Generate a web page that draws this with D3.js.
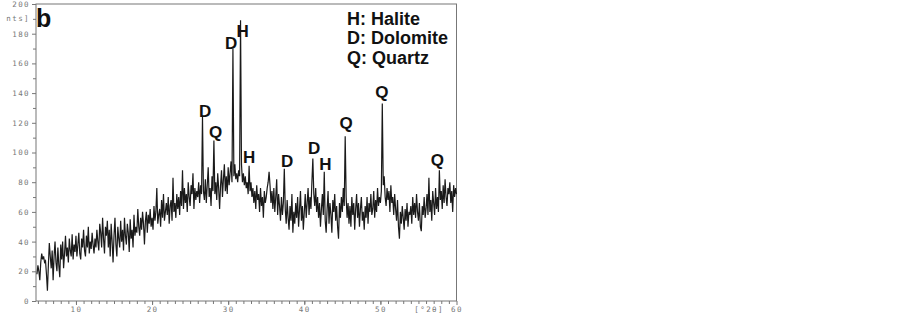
<!DOCTYPE html>
<html>
<head>
<meta charset="utf-8">
<script src="https://cdn.jsdelivr.net/npm/d3@7"></script>
<style>
  body { margin: 0; background: #fff; }
  svg { display: block; }
  .tick text, .unit { font-family: "DejaVu Sans Mono", monospace; font-size: 7.5px; fill: #777; letter-spacing: 1.4px; }
  .tick line { stroke: #777; }
  .mark { font-family: "Liberation Sans", Arial, sans-serif; font-weight: bold; fill: #111; }
</style>
</head>
<body>
<svg id="chart" width="903" height="313"></svg>
<script>
// XRD scan, one value every 0.125 deg 2-theta
const startAngle = 4.875;
const stepAngle = 0.125;
const counts = [
  18,
  24, 20, 14, 26, 32, 28, 30, 26,   // 5
  27, 18, 7, 24, 39, 30, 22, 34,    // 6
  14, 30, 40, 26, 20, 36, 24, 16,   // 7
  38, 28, 40, 22, 32, 44, 30, 36,   // 8
  26, 42, 34, 30, 45, 28, 38, 33,   // 9
  44, 30, 38, 46, 32, 28, 42, 36,   // 10
  48, 34, 30, 44, 36, 50, 32, 40,   // 11
  35, 46, 38, 32, 42, 36, 48, 40,   // 12
  34, 52, 46, 36, 56, 42, 32, 50,   // 13
  44, 54, 36, 48, 30, 52, 40, 26,   // 14
  44, 56, 38, 30, 50, 42, 36, 54,   // 15
  40, 48, 34, 56, 44, 38, 52, 46,   // 16
  33, 55, 42, 48, 36, 58, 44, 50,   // 17
  46, 62, 50, 44, 56, 48, 60, 52,   // 18
  38, 54, 60, 46, 58, 52, 62, 50,   // 19
  56, 48, 64, 54, 60, 76, 52, 58,   // 20
  62, 50, 68, 56, 72, 54, 60, 66,   // 21
  58, 70, 52, 64, 68, 54, 83, 60,   // 22
  66, 56, 72, 62, 70, 58, 74, 64,   // 23
  88, 62, 76, 66, 72, 60, 80, 70,   // 24
  64, 78, 72, 86, 62, 76, 68, 74,   // 25
  70, 80, 66, 78, 72, 124, 74, 68,  // 26
  82, 66, 78, 90, 70, 76, 64, 84,   // 27
  74, 108, 72, 80, 68, 86, 76, 62,  // 28
  78, 88, 70, 82, 92, 74, 84, 72,   // 29
  90, 78, 86, 94, 80, 170, 84, 92,  // 30
  82, 86, 80, 88, 84, 189, 92, 80,  // 31
  86, 78, 84, 76, 80, 72, 91, 74,   // 32
  80, 70, 76, 66, 74, 62, 78, 68,   // 33
  72, 60, 76, 64, 70, 56, 74, 66,   // 34
  70, 76, 80, 87, 78, 66, 74, 62,   // 35
  76, 60, 70, 82, 58, 72, 64, 54,   // 36
  70, 58, 66, 89, 62, 52, 68, 56,   // 37
  48, 64, 54, 72, 46, 60, 52, 66,   // 38
  56, 70, 50, 62, 74, 54, 64, 48,   // 39
  60, 72, 56, 66, 76, 58, 70, 62,   // 40
  80, 96, 72, 64, 76, 60, 70, 56,   // 41
  66, 50, 62, 72, 58, 87, 54, 46,   // 42
  62, 74, 52, 66, 58, 46, 68, 60,   // 43
  72, 54, 64, 50, 42, 66, 56, 70,   // 44
  60, 76, 64, 111, 70, 56, 66, 52,  // 45
  64, 50, 70, 58, 66, 48, 62, 72,   // 46
  56, 66, 50, 62, 70, 54, 60, 48,   // 47
  64, 56, 70, 52, 66, 60, 72, 58,   // 48
  62, 74, 56, 68, 60, 76, 64, 70,   // 49
  66, 74, 133, 78, 84, 70, 64, 76,  // 50
  68, 74, 60, 78, 66, 70, 58, 72,   // 51
  62, 54, 68, 50, 42, 60, 52, 64,   // 52
  56, 48, 62, 54, 66, 50, 60, 58,   // 53
  64, 52, 70, 58, 66, 56, 72, 60,   // 54
  54, 66, 50, 47, 64, 58, 70, 56,   // 55
  62, 72, 58, 83, 60, 68, 54, 74,   // 56
  66, 58, 76, 62, 70, 60, 88, 68,   // 57
  74, 62, 78, 66, 82, 70, 64, 76,   // 58
  72, 80, 66, 74, 60, 78, 70, 76,   // 59
  72
];

const xTicks = [10, 20, 30, 40, 50, 60];
const yTicks = [0, 20, 40, 60, 80, 100, 120, 140, 160, 180, 200];
const yLabelText = 'nts]';   // tail of the "[counts]" label at 190
const xLabelText = '[°2θ]';

// peak letters, anchored in data units (angle, counts) at baseline centre
const peakLetters = ['D', 'Q', 'D', 'H', 'H', 'D', 'D', 'H', 'Q', 'Q', 'Q'];
const peakAngles  = [26.97, 28.36, 30.39, 31.9, 32.76, 37.76, 41.3, 42.76, 45.5, 50.2, 57.5];
const peakCounts  = [124, 110, 170, 178, 93, 90, 99, 88, 116, 137, 91];

const legendItems = ['H: Halite', 'D: Dolomite', 'Q: Quartz'];

const svg = d3.select('#chart');
const x = d3.scaleLinear().domain([4.75, 60]).range([36, 456.5]);
const y = d3.scaleLinear().domain([0, 200]).range([301, 4]);

const data = counts.map((c, i) => ({ angle: startAngle + i * stepAngle, count: c }));

// frame
svg.append('rect')
  .attr('x', x.range()[0]).attr('y', y.range()[1])
  .attr('width', x.range()[1] - x.range()[0])
  .attr('height', y.range()[0] - y.range()[1])
  .attr('fill', 'none').attr('stroke', '#777').attr('stroke-width', 1);

// minor ticks
svg.append('g')
  .attr('transform', `translate(0,${y.range()[0]})`)
  .call(d3.axisBottom(x).tickValues(d3.range(5, 60, 1)).tickSize(3).tickFormat(''))
  .call(g => g.select('.domain').remove());
svg.append('g')
  .attr('transform', `translate(${x.range()[0]},0)`)
  .call(d3.axisLeft(y).tickValues(d3.range(10, 200, 20)).tickSize(3).tickFormat(''))
  .call(g => g.select('.domain').remove());

// major ticks with labels
svg.append('g')
  .attr('transform', `translate(0,${y.range()[0]})`)
  .call(d3.axisBottom(x).tickValues(xTicks).tickSize(4).tickPadding(2))
  .call(g => g.select('.domain').remove());
svg.append('g')
  .attr('transform', `translate(${x.range()[0]},0)`)
  .call(d3.axisLeft(y).tickValues(yTicks).tickSize(4).tickPadding(2))
  .call(g => g.select('.domain').remove());

svg.append('text').attr('class', 'unit')
  .attr('x', 30).attr('y', y(190)).attr('dy', '0.32em')
  .attr('text-anchor', 'end').text(yLabelText);
svg.append('text').attr('class', 'unit')
  .attr('x', x(56.4)).attr('y', 312)
  .attr('text-anchor', 'middle').text(xLabelText);

// trace
const line = d3.line().x(d => x(d.angle)).y(d => y(d.count));
svg.append('path')
  .datum(data)
  .attr('d', line)
  .attr('fill', 'none')
  .attr('stroke', '#1a1a1a')
  .attr('stroke-width', 1.2)
  .attr('stroke-linejoin', 'miter');

// peak letters
svg.append('g').selectAll('text')
  .data(peakLetters)
  .enter().append('text')
  .attr('class', 'mark')
  .attr('x', (d, i) => x(peakAngles[i]))
  .attr('y', (d, i) => y(peakCounts[i]))
  .attr('text-anchor', 'middle')
  .attr('font-size', 17)
  .text(d => d);

// panel letter
svg.append('text').attr('class', 'mark')
  .attr('x', 36).attr('y', 27)
  .attr('font-size', 25)
  .text('b');

// legend
svg.append('g').selectAll('text')
  .data(legendItems)
  .enter().append('text')
  .attr('class', 'mark')
  .attr('x', 347)
  .attr('y', (d, i) => 24.5 + i * 19.8)
  .attr('font-size', 18)
  .text(d => d);
</script>
</body>
</html>
